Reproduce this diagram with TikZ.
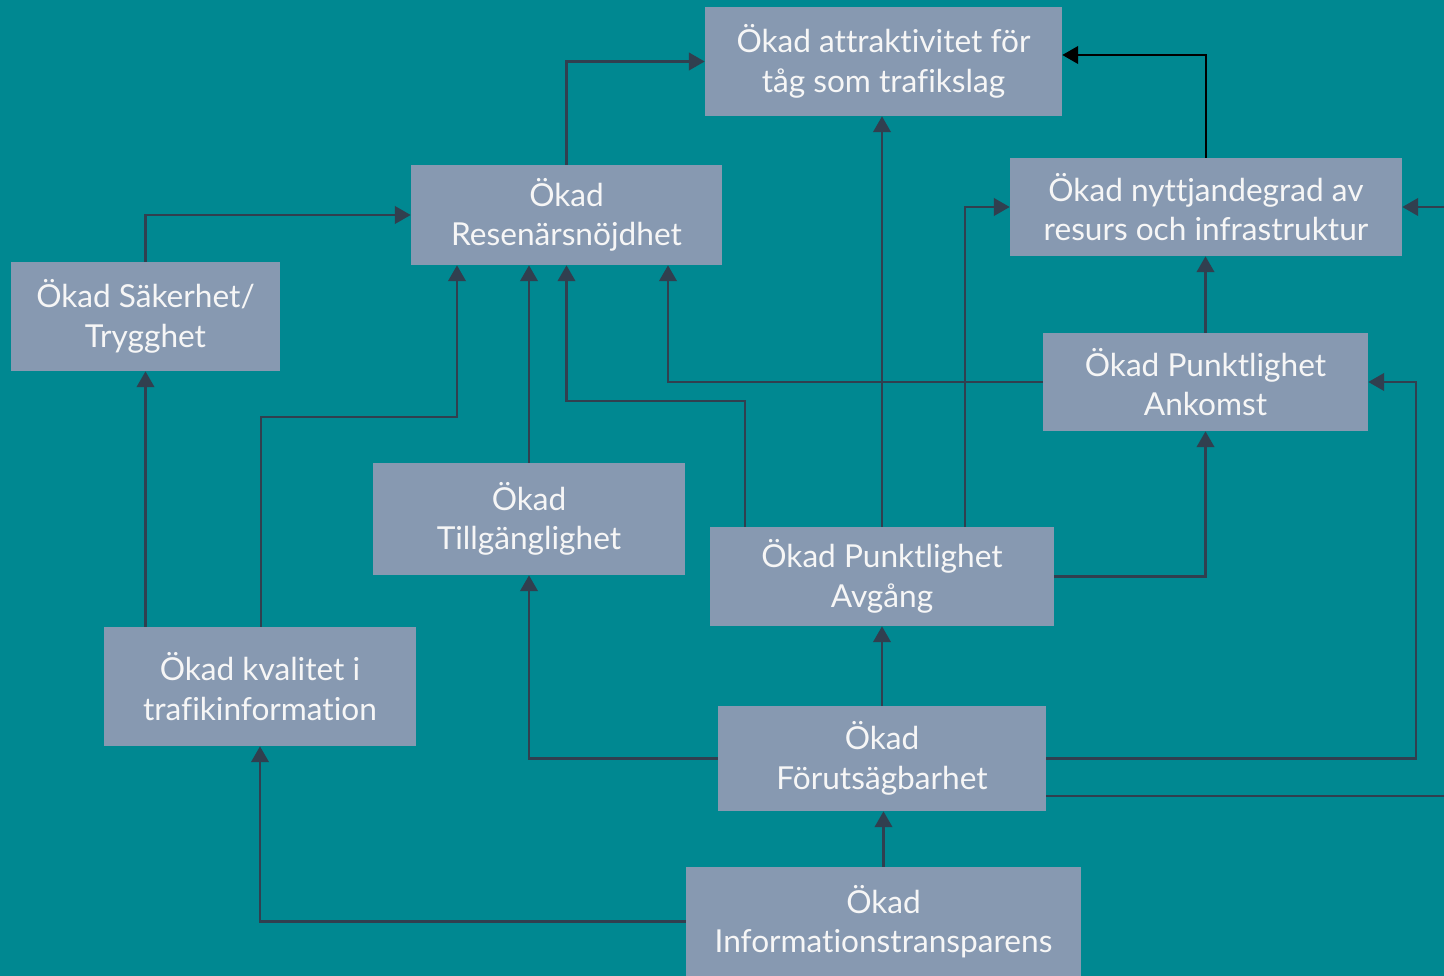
\documentclass[tikz,border=0pt]{standalone}
\usepackage{fontspec}
\setmainfont{Lato}[RawFeature=-liga]
\usetikzlibrary{arrows.meta,calc}

\definecolor{bgteal}{HTML}{008891}
\definecolor{boxblue}{HTML}{8799B1}
\definecolor{linkgray}{HTML}{313F4F}
\definecolor{boxtext}{HTML}{F6F6F6}

\tikzset{
    goal/.style={fill=boxblue, text=boxtext, inner sep=0pt, align=center,
        font=\fontsize{18}{22.5}\selectfont},
    link/.style={draw=linkgray, line width=1.25pt,
        -{Triangle[width=10pt,length=9pt]}},
}

\begin{document}
\begin{tikzpicture}[x=0.02cm, y=-0.02cm]
    \clip (0,0) rectangle (1444,976);
    \fill[bgteal] (0,0) rectangle (1444,976);

    % boxes
    \node[goal, minimum width=7.14cm, minimum height=2.18cm] (attr) at (883.5,61.5) {Ökad attraktivitet för\\tåg som trafikslag};
    \node[goal, minimum width=6.22cm, minimum height=2.0cm] (resnoj) at (566.5,215) {Ökad\\Resenärsnöjdhet};
    \node[goal, minimum width=7.84cm, minimum height=1.96cm] (nytt) at (1206,207) {Ökad nyttjandegrad av\\resurs och infrastruktur};
    \node[goal, minimum width=5.38cm, minimum height=2.18cm] (saker) at (145.5,316.5) {Ökad Säkerhet/\\Trygghet};
    \node[goal, minimum width=6.5cm, minimum height=1.96cm] (ankomst) at (1205.5,382) {Ökad Punktlighet\\Ankomst};
    \node[goal, minimum width=6.24cm, minimum height=2.24cm] (tillg) at (529,519) {Ökad\\Tillgänglighet};
    \node[goal, minimum width=6.88cm, minimum height=1.98cm] (avgang) at (882,576.5) {Ökad Punktlighet\\Avgång};
    \node[goal, minimum width=6.24cm, minimum height=2.38cm] (kval) at (260,686.5) {Ökad kvalitet i\\trafikinformation};
    \node[goal, minimum width=6.56cm, minimum height=2.1cm] (forut) at (882,758.5) {Ökad\\Förutsägbarhet};
    \node[goal, minimum width=7.9cm, minimum height=2.18cm] (info) at (883.5,921.5) {Ökad\\Informationstransparens};

    % connectors
    \draw[link] (saker.north) |- (resnoj.west);
    \draw[link] (resnoj.north) |- (attr.west);
    \draw[link] (avgang.north) -- (avgang.north |- attr.south);
    \draw[link, draw=black, -{Triangle[width=10pt,length=9pt]}] (nytt.north) |- (attr.east |- 0,55);
    \draw[link] (forut.east |- 0,796) -- (1470,796) |- (nytt.east);
    \draw[link] (avgang.north -| 965,0) |- (nytt.west);
    \draw[link] (ankomst.north) -- (ankomst.north |- nytt.south);
    \draw[link] (ankomst.west) -| (resnoj.south -| 668,0);
    \draw[link] (avgang.north -| 745,0) |- (resnoj.south |- 0,401) -- (resnoj.south);
    \draw[link] (tillg.north) -- (tillg.north |- resnoj.south);
    \draw[link] (kval.north -| 261,0) |- (457,417) -- (resnoj.south -| 457,0);
    \draw[link] (kval.north -| saker.south) -- (saker.south);
    \draw[link] (avgang.east) -| (ankomst.south);
    \draw[link] (forut.east) -| ($(ankomst.east)+(48,0)$) -- (ankomst.east);
    \draw[link] (forut.west) -| (tillg.south);
    \draw[link] (forut.north) -- (avgang.south);
    \draw[link] (info.north) -- (info.north |- forut.south);
    \draw[link] (info.west) -| (kval.south);
\end{tikzpicture}
\end{document}
